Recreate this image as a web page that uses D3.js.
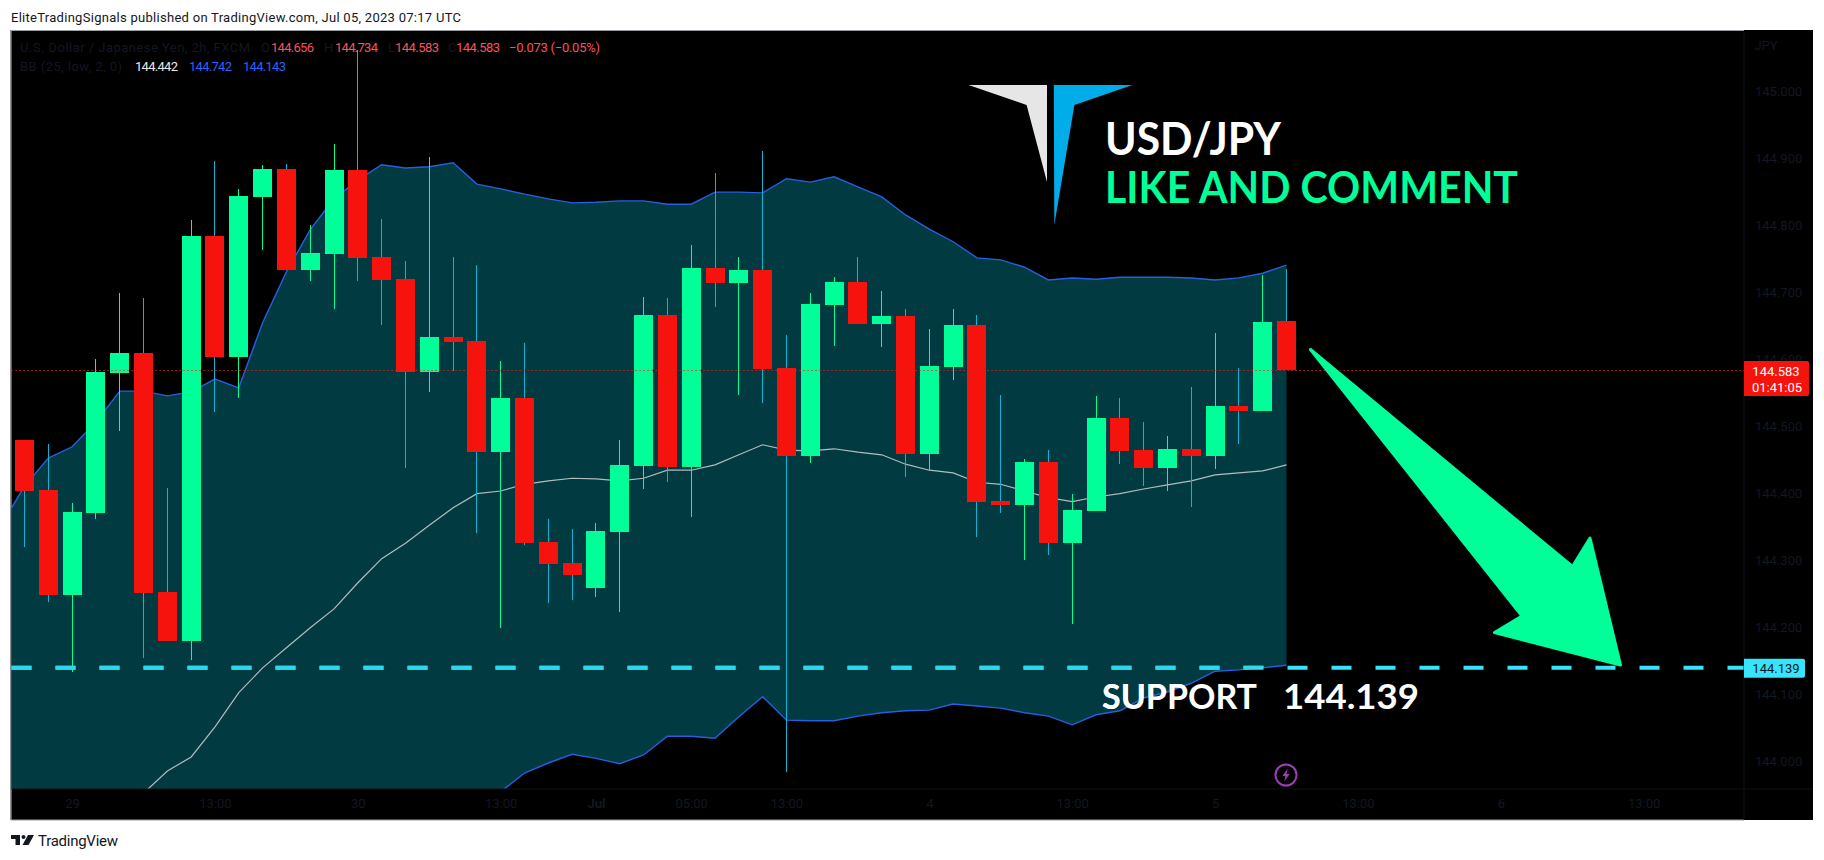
<!DOCTYPE html>
<html><head><meta charset="utf-8">
<script src="https://d3js.org/d3.v7.min.js"></script>
<style>html,body{margin:0;padding:0;background:#fff;overflow:hidden}svg{display:block}
text{font-family:Roboto,"Noto Sans",sans-serif}</style></head>
<body><svg id="c" width="1824" height="860"></svg>
<script>
const opens=[144.479,144.404,144.248,144.370,144.579,144.609,144.252,144.179,144.784,144.603,144.842,144.884,144.733,144.757,144.882,144.752,144.719,144.581,144.633,144.627,144.461,144.542,144.327,144.296,144.258,144.342,144.440,144.666,144.439,144.736,144.713,144.733,144.587,144.455,144.681,144.715,144.652,144.664,144.458,144.588,144.651,144.388,144.382,144.446,144.325,144.373,144.512,144.464,144.437,144.466,144.455,144.530,144.522,144.656];
const closes=[144.403,144.248,144.372,144.581,144.609,144.251,144.179,144.784,144.603,144.843,144.884,144.733,144.758,144.882,144.751,144.718,144.581,144.633,144.625,144.461,144.542,144.325,144.294,144.278,144.343,144.442,144.666,144.439,144.736,144.713,144.733,144.585,144.455,144.682,144.715,144.652,144.664,144.458,144.590,144.651,144.387,144.382,144.446,144.325,144.375,144.512,144.463,144.437,144.466,144.455,144.530,144.522,144.655,144.583];
const highs=[144.479,144.473,144.385,144.600,144.699,144.691,144.407,144.807,144.896,144.854,144.890,144.891,144.800,144.921,145.061,144.809,144.746,144.901,144.752,144.740,144.597,144.624,144.361,144.346,144.355,144.479,144.693,144.691,144.770,144.878,144.752,144.910,144.636,144.699,144.722,144.752,144.701,144.675,144.645,144.675,144.666,144.546,144.451,144.464,144.399,144.545,144.542,144.506,144.485,144.558,144.639,144.587,144.725,144.734];
const lows=[144.320,144.237,144.133,144.361,144.493,144.154,144.179,144.151,144.521,144.542,144.763,144.733,144.716,144.675,144.716,144.651,144.437,144.551,144.582,144.340,144.199,144.322,144.236,144.240,144.245,144.222,144.406,144.416,144.364,144.678,144.546,144.534,143.984,144.445,144.619,144.652,144.618,144.424,144.434,144.569,144.334,144.370,144.300,144.307,144.204,144.373,144.443,144.410,144.403,144.379,144.436,144.473,144.522,144.583];
// Bollinger bands start one bar before the first visible candle
const bandIndex=d3.range(-1,54);
const bbUpper=[144.351,144.410,144.452,144.469,144.506,144.552,144.552,144.545,144.551,144.570,144.557,144.654,144.730,144.793,144.839,144.867,144.890,144.885,144.887,144.893,144.861,144.854,144.846,144.839,144.833,144.834,144.836,144.836,144.831,144.831,144.849,144.849,144.848,144.869,144.864,144.872,144.857,144.842,144.815,144.794,144.775,144.751,144.748,144.737,144.718,144.721,144.719,144.722,144.722,144.722,144.721,144.718,144.721,144.728,144.740];
const bbBasis=[143.830,143.850,143.870,143.890,143.910,143.930,143.952,143.985,144.006,144.051,144.102,144.139,144.169,144.199,144.227,144.266,144.302,144.325,144.352,144.378,144.399,144.403,144.413,144.418,144.422,144.421,144.418,144.422,144.434,144.434,144.442,144.457,144.472,144.464,144.463,144.466,144.461,144.457,144.443,144.434,144.430,144.416,144.413,144.403,144.393,144.387,144.394,144.399,144.406,144.412,144.418,144.427,144.430,144.433,144.442];
const bbLower=[143.300,143.330,143.360,143.380,143.410,143.450,143.470,143.500,143.530,143.560,143.610,143.620,143.610,143.600,143.620,143.670,143.720,143.770,143.820,143.860,143.940,143.954,143.982,143.997,144.010,144.004,143.996,144.009,144.037,144.037,144.034,144.066,144.096,144.061,144.060,144.060,144.067,144.072,144.075,144.076,144.085,144.082,144.079,144.072,144.067,144.054,144.069,144.075,144.094,144.103,144.116,144.134,144.136,144.139,144.143];
const priceTicks=[145,144.9,144.8,144.7,144.6,144.5,144.4,144.3,144.2,144.1,144];
const timeTickIndex=[2,8,14,20,24,28,32,38,44,50,56,62,68];
const timeTickLabels=["29","13:00","30","13:00","Jul","05:00","13:00","4","13:00","5","13:00","6","13:00"];
const supportLevel=144.139;
const lastPrice=144.583;
const legendRow1=["U.S. Dollar / Japanese Yen, 2h, FXCM","O","144.656","H","144.734","L","144.583","C","144.583","\u22120.073 (\u22120.05%)"];
const legendRow2=["BB (25, low, 2, 0)","144.442","144.742","144.143"];

const COL={up:"#00ff99",down:"#f7130d",wickDown:"#10b5d5",band:"#023a42",bandLine:"#2460e0",basis:"#b2bcbc",dim:"#131722",cyan:"#36e4fc",cyanOnBand:"#2cd8ec"};
const L=11.5,R=1744,T=31,B=789,EDGE=1813,FB=820;
const svg=d3.select("#c");
const x=d3.scaleLinear().domain([0,53]).range([24.5,1286.5]);
const y=d3.scaleLinear().domain([144,145]).range([761,91]);

svg.append("rect").attr("x",L-1).attr("y",T-1).attr("width",EDGE-L+1).attr("height",FB-T+1).attr("fill","#000");
svg.append("path").attr("d",`M${L-0.5},${FB}V${T-0.5}H${R}`).attr("fill","none").attr("stroke","#9b9ea3").attr("stroke-width",1.2);
svg.append("path").attr("d",`M${L-0.5},${FB}H${R}`).attr("fill","none").attr("stroke","#9b9ea3").attr("stroke-width",1.2);

const defs=svg.append("defs");
defs.append("clipPath").attr("id","plot").append("rect").attr("x",L).attr("y",T).attr("width",R-L).attr("height",B-T);
const areaGen=d3.area().x((d)=>x(d)).y0((d)=>y(bbLower[d+1])).y1((d)=>y(bbUpper[d+1]));
defs.append("clipPath").attr("id","bandclip").append("path").attr("d",areaGen(bandIndex));

const plot=svg.append("g").attr("clip-path","url(#plot)");
plot.append("path").attr("d",areaGen(bandIndex)).attr("fill",COL.band);
const lineOf=(arr)=>d3.line().x((d)=>x(d)).y((d)=>y(arr[d+1]))(bandIndex);
plot.append("path").attr("d",lineOf(bbBasis)).attr("fill","none").attr("stroke",COL.basis).attr("stroke-width",1.2);
plot.append("path").attr("d",lineOf(bbUpper)).attr("fill","none").attr("stroke",COL.bandLine).attr("stroke-width",1.4);
plot.append("path").attr("d",lineOf(bbLower)).attr("fill","none").attr("stroke",COL.bandLine).attr("stroke-width",1.4);

const idx=d3.range(opens.length);
plot.selectAll("rect.w").data(idx).join("rect").attr("class","w")
 .attr("x",(i)=>Math.floor(x(i))).attr("width",1)
 .attr("y",(i)=>Math.round(y(highs[i]))).attr("height",(i)=>Math.round(y(lows[i]))-Math.round(y(highs[i])))
 .attr("fill",(i)=>closes[i]>=opens[i]?COL.up:COL.wickDown);
plot.selectAll("rect.b").data(idx).join("rect").attr("class","b")
 .attr("x",(i)=>Math.floor(x(i))-9).attr("width",19)
 .attr("y",(i)=>Math.round(y(Math.max(opens[i],closes[i]))))
 .attr("height",(i)=>Math.round(y(Math.min(opens[i],closes[i])))-Math.round(y(Math.max(opens[i],closes[i]))))
 .attr("fill",(i)=>closes[i]>=opens[i]?COL.up:COL.down);

// last-price dotted line
svg.append("line").attr("x1",L).attr("x2",R).attr("y1",Math.round(y(lastPrice))+0.5).attr("y2",Math.round(y(lastPrice))+0.5)
 .attr("stroke","#e8231c").attr("stroke-width",1).attr("stroke-dasharray","1.2 2.8");

// support text, dimmed where the band lies over it
const fontAnn='Lato,"Open Sans",sans-serif';
const ann=(g,t,xx,yy,size,col,len)=>g.append("text").text(t).attr("x",xx).attr("y",yy).attr("fill",col)
  .attr("textLength",len).attr("lengthAdjust","spacingAndGlyphs")
  .style("font-family",fontAnn).style("font-size",size+"px").style("font-weight",700);
const supClip=svg.append("g").attr("clip-path","url(#bandclip)");
ann(svg,"SUPPORT",1102,709,34,"#fff",155);
ann(supClip,"SUPPORT",1102,709,34,"#bdeef3",155);
ann(svg,"144.139",1283,709,34,"#fff",136);

// support line
const supLine=(g,col)=>g.append("line").attr("x1",L).attr("x2",R).attr("y1",y(supportLevel)).attr("y2",y(supportLevel))
 .attr("stroke",col).attr("stroke-width",4).attr("stroke-dasharray","20 24");
supLine(svg,COL.cyan);
supLine(svg.append("g").attr("clip-path","url(#bandclip)"),COL.cyanOnBand);

// logo
svg.append("polygon").attr("points","968.6,85 1047,85 1047,182 1026.6,105").attr("fill","#e6e6e6");
svg.append("polygon").attr("points","1053.8,85 1132.4,85 1074.4,105 1054.3,225").attr("fill","#00ade9");
ann(svg,"USD/JPY",1105,155,45,"#fff",176);
ann(svg,"LIKE AND COMMENT",1105,203,44,COL.up,413);

// arrow
svg.append("polygon").attr("points","1310.5,349.5 1572.5,566.5 1590,538 1620.5,665 1494.5,632.5 1522,616")
 .attr("fill",COL.up).attr("stroke",COL.up).attr("stroke-width",3).attr("stroke-linejoin","round");

// lightning icon
const icon=svg.append("g").attr("transform","translate(1286,775)");
icon.append("circle").attr("r",10.5).attr("fill","#000").attr("stroke","#9c3fb5").attr("stroke-width",2);
icon.append("path").attr("d","M1.8,-6.5L-3.6,1H-0.6L-1.8,6.5L3.6,-1H0.6Z").attr("fill","#9c3fb5");

// axes
const xAxis=d3.axisBottom(x).tickValues(timeTickIndex).tickFormat((d,i)=>timeTickLabels[i]).tickSize(0).tickPadding(10);
const gx=svg.append("g").attr("transform",`translate(0,${B})`).call(xAxis);
gx.select(".domain").attr("d",`M${L},0H${EDGE}`).attr("stroke","#101218").attr("stroke-width",1);
gx.selectAll("text").attr("fill",COL.dim).style("font-size","13px");
gx.selectAll("text").filter((d)=>d===24).style("font-weight",700);
const yAxis=d3.axisRight(y).tickValues(priceTicks).tickFormat(d3.format(".3f")).tickSize(0).tickPadding(11);
const gy=svg.append("g").attr("transform",`translate(${R},0)`).call(yAxis);
gy.select(".domain").attr("d",`M0,${T}V${FB}`).attr("stroke","#101218").attr("stroke-width",1);
gy.selectAll("text").attr("fill",COL.dim).style("font-size","13px");
svg.append("text").text("JPY").attr("x",1766).attr("y",50).attr("text-anchor","middle").attr("fill",COL.dim).style("font-size","13px");

// price labels
const lbl=(x2,yt,h,col)=>svg.append("path").attr("d",`M${R},${yt}H${x2-2}q2,0 2,2V${yt+h-2}q0,2 -2,2H${R}Z`).attr("fill",col);
lbl(1809,y(lastPrice)-9.5,35,COL.down);
svg.append("text").text(d3.format(".3f")(lastPrice)).attr("x",1776).attr("y",y(lastPrice)+5.5).attr("fill","#fff").attr("text-anchor","middle").style("font-size","13px");
svg.append("text").text("01:41:05").attr("x",1777).attr("y",y(lastPrice)+21.5).attr("fill","#fff").attr("text-anchor","middle").style("font-size","13px");
lbl(1805,y(supportLevel)-9,19,COL.cyan);
svg.append("text").text(d3.format(".3f")(supportLevel)).attr("x",1776).attr("y",y(supportLevel)+5).attr("fill","#131722").attr("text-anchor","middle").style("font-size","13px");

// legend
const legendX1=[20,261,271,324,335,388,395,448,456,509];
const legendW1=[230,null,43,null,43,null,44,null,44,91];
const legendC1=[COL.dim,COL.dim,"#f7525f",COL.dim,"#f7525f",COL.dim,"#f7525f",COL.dim,"#f7525f","#f7525f"];
const legendX2=[20,135,189,243];
const legendW2=[102,43,43,43];
const legendC2=[COL.dim,"#e8e8e8","#2962ff","#2962ff"];
const legend=(rows,xs,ws,cs,yy)=>svg.append("g").selectAll("text").data(rows).join("text").text((d)=>d)
 .attr("x",(d,i)=>xs[i]).attr("y",yy).attr("textLength",(d,i)=>ws[i]).attr("fill",(d,i)=>cs[i]).style("font-size","13px");
legend(legendRow1,legendX1,legendW1,legendC1,52);
legend(legendRow2,legendX2,legendW2,legendC2,71);

// page texts
svg.append("text").text("EliteTradingSignals published on TradingView.com, Jul 05, 2023 07:17 UTC").attr("x",11).attr("y",21.5).attr("textLength",450).attr("fill","#131722").style("font-size","13px");
svg.append("text").text("TradingView").attr("x",38).attr("y",846).attr("textLength",80).attr("fill","#131722").style("font-size","15px");
const tv=svg.append("g").attr("transform","translate(11,835)").attr("fill","#131722");
tv.append("path").attr("d","M0,0H9V10H4.5V4H0Z");
tv.append("circle").attr("cx",12.5).attr("cy",2).attr("r",2);
tv.append("path").attr("d","M17,0H23L17.5,10H11.5Z");
</script></body></html>
